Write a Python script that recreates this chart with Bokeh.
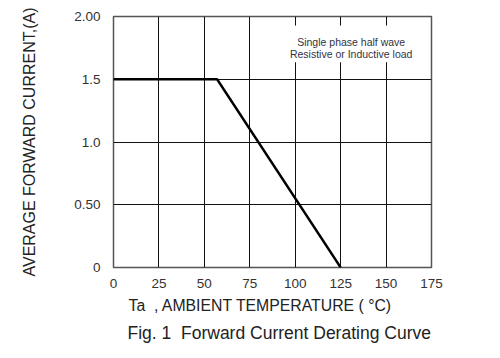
import math
from bokeh.plotting import figure
from bokeh.models import Range1d, Label, FixedTicker, Title
from bokeh.embed import file_html
from bokeh.resources import INLINE

# Data
temp = [0, 57, 125]
current = [1.5, 1.5, 0.0]
x_ticks = [0, 25, 50, 75, 100, 125, 150, 175]
y_ticks = [0.0, 0.5, 1.0, 1.5, 2.0]
y_tick_labels = ["0", "0.50", "1.0", "1.5", "2.00"]
note_lines = ["Single phase half wave", "Resistive or Inductive load"]
x_title = "Ta\u00a0\u00a0, AMBIENT TEMPERATURE (\u00a0\u00b0C)"
y_title = "AVERAGE FORWARD CURRENT,(A)"
fig_title = "Fig. 1\u00a0\u00a0Forward Current Derating Curve"

FONT = "Liberation Sans"

p = figure(width=470, height=350, output_backend="svg", toolbar_location=None,
           x_range=Range1d(0, 175), y_range=Range1d(0, 2),
           min_border_left=113, min_border_right=39, min_border_top=16, min_border_bottom=83)
p.background_fill_color = "white"
p.border_fill_color = "white"
p.outline_line_color = "#555555"
p.outline_line_width = 1.5

for ax in (p.xaxis[0], p.yaxis[0]):
    ax.axis_line_color = None
    ax.major_tick_line_color = None
    ax.minor_tick_line_color = None
    ax.major_tick_out = 0
    ax.minor_tick_out = 0
    ax.major_label_text_font = FONT
    ax.major_label_text_font_size = "13.5px"
    ax.major_label_text_color = "#333333"

p.xaxis.ticker = FixedTicker(ticks=x_ticks)
p.yaxis.ticker = FixedTicker(ticks=y_ticks)
p.yaxis.major_label_overrides = {t: l for t, l in zip(y_ticks, y_tick_labels)}
p.xaxis.major_label_overrides = {t: str(t) for t in x_ticks}
p.xaxis.major_label_standoff = 11
p.yaxis.major_label_standoff = 13

p.yaxis.axis_label = y_title
p.yaxis.axis_label_text_font = FONT
p.yaxis.axis_label_text_font_size = "16px"
p.yaxis.axis_label_text_font_style = "normal"
p.yaxis.axis_label_text_color = "#222222"
p.yaxis.axis_label_standoff = 33

p.xgrid.grid_line_color = "#111111"
p.ygrid.grid_line_color = "#111111"
p.xgrid.grid_line_width = 1
p.ygrid.grid_line_width = 1

# white box behind note text (gaps in gridlines)
p.quad(left=96.5, right=166, bottom=1.635, top=1.928, fill_color="white", line_color=None)

p.line(temp, current, line_color="black", line_width=2.4)

for txt, yy in zip(note_lines, [1.797, 1.701]):
    p.add_layout(Label(x=130.8, y=yy, text=txt, text_align="center", text_baseline="middle",
                       text_font=FONT, text_font_size="10.5px", text_color="#333344"))

xt = Title(text=x_title, align="left", offset=15, standoff=8,
           text_font=FONT, text_font_size="15.8px", text_font_style="normal", text_color="#222222")
ft = Title(text=fig_title, align="left", offset=14, standoff=7,
           text_font=FONT, text_font_size="17.5px", text_font_style="normal", text_color="#222222")
p.add_layout(xt, "below")
p.add_layout(ft, "below")

open("out.html", "w").write(file_html(p, INLINE))
